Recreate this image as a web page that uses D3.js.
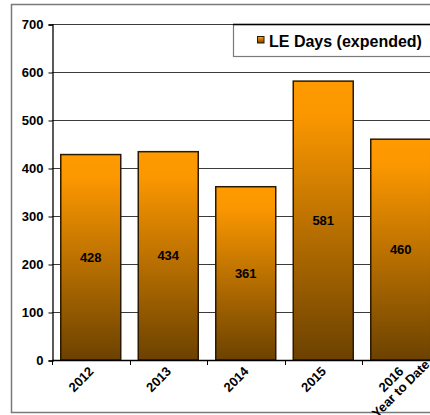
<!DOCTYPE html>
<html>
<head>
<meta charset="utf-8">
<script src="https://cdn.jsdelivr.net/npm/d3@7"></script>
<style>
  body { margin: 0; background: #fff; }
  text { font-family: Arial, "Liberation Sans", sans-serif; font-weight: bold; fill: #000; }
</style>
</head>
<body>
<div id="chart"></div>
<script>
// values
let years = ["2012", "2013", "2014", "2015", "2016\nYear to Date"];
let days = [428, 434, 361, 581, 460];
let yTicks = [0, 100, 200, 300, 400, 500, 600, 700];
let seriesName = "LE Days (expended)";

let width = 430;
let height = 415;
let plotLeft = 52;
let plotTop = 24;
let plotBottom = 360;
let step = 77.5;

let svg = d3.select("#chart").append("svg")
  .attr("width", width)
  .attr("height", height);

// bar gradient, orange at top to brown at bottom
let grad = svg.append("defs").append("linearGradient")
  .attr("id", "barFill")
  .attr("x1", 0).attr("y1", 0).attr("x2", 0).attr("y2", 1);
grad.append("stop").attr("offset", "0").attr("stop-color", "#ff9a00");
grad.append("stop").attr("offset", "0.12").attr("stop-color", "#fb9700");
grad.append("stop").attr("offset", "1").attr("stop-color", "#6c4200");

// outer chart frame (cut off on the right)
svg.append("path")
  .attr("d", "M 460 4.5 H 11.5 V 412.5 H 460")
  .attr("fill", "none")
  .attr("stroke", "#7a7a7a")
  .attr("stroke-width", 1.5);

let x = d3.scaleBand()
  .domain(years)
  .range([plotLeft, plotLeft + step * years.length])
  .paddingInner(0.226)
  .paddingOuter(0.113);

let y = d3.scaleLinear()
  .domain([0, 700])
  .range([plotBottom, plotTop]);

// gridlines
svg.append("g")
  .selectAll("line")
  .data(yTicks.slice(1))
  .enter().append("line")
  .attr("x1", plotLeft)
  .attr("x2", width + 20)
  .attr("y1", function(d) { return Math.round(y(d)) + 0.5; })
  .attr("y2", function(d) { return Math.round(y(d)) + 0.5; })
  .attr("stroke", "#3a3a3a")
  .attr("stroke-width", 1);

// y axis
let yAxis = svg.append("g")
  .attr("transform", "translate(" + (plotLeft + 0.5) + ",0.5)")
  .call(d3.axisLeft(y).tickValues(yTicks).tickSize(4).tickPadding(5));
yAxis.select(".domain").attr("stroke", "#000").attr("stroke-width", 1.3);
yAxis.selectAll(".tick line").attr("stroke", "#000");
yAxis.selectAll(".tick text").attr("font-size", "13px").attr("font-family", "Arial, 'Liberation Sans', sans-serif");

// bars
let bars = svg.append("g")
  .selectAll(".bar")
  .data(days)
  .enter().append("g")
  .attr("class", "bar");

bars.append("rect")
  .attr("x", function(d, i) { return x(years[i]); })
  .attr("y", function(d) { return y(d); })
  .attr("width", x.bandwidth())
  .attr("height", function(d) { return y(0) - y(d); })
  .attr("fill", "url(#barFill)")
  .attr("stroke", "#2b1a00")
  .attr("stroke-width", 1.5);

bars.append("text")
  .attr("x", function(d, i) { return x(years[i]) + x.bandwidth() / 2; })
  .attr("y", function(d) { return (y(d) + y(0)) / 2; })
  .attr("dy", "0.35em")
  .attr("text-anchor", "middle")
  .attr("font-size", "13px")
  .text(function(d) { return d; });

// x axis line and ticks at category edges
svg.append("line")
  .attr("x1", plotLeft).attr("x2", width + 20)
  .attr("y1", plotBottom + 0.5).attr("y2", plotBottom + 0.5)
  .attr("stroke", "#000").attr("stroke-width", 1.3);

svg.append("g")
  .selectAll("line")
  .data(years)
  .enter().append("line")
  .attr("x1", function(d) { return Math.round(x(d) - x.step() * x.paddingInner() / 2) + 0.5; })
  .attr("x2", function(d) { return Math.round(x(d) - x.step() * x.paddingInner() / 2) + 0.5; })
  .attr("y1", plotBottom)
  .attr("y2", plotBottom + 5)
  .attr("stroke", "#000");

// rotated category labels: first line ends at the anchor, later lines centred under it
let lab = svg.append("g")
  .selectAll(".xlab")
  .data(years)
  .enter().append("g")
  .attr("class", "xlab")
  .attr("transform", function(d) {
    return "translate(" + (x(d) + x.bandwidth() / 2 + 0.5) + "," + (plotBottom + 9) + ") rotate(-45)";
  });

lab.each(function(d) {
  let g = d3.select(this);
  let lines = d.split("\n");
  let t = g.selectAll("text")
    .data(lines)
    .enter().append("text")
    .attr("font-size", "13px")
    .attr("text-anchor", "middle")
    .attr("dy", "0.35em")
    .text(function(s) { return s; });
  let w0 = t.node().getComputedTextLength();
  t.attr("x", -w0 / 2)
    .attr("y", function(s, i) { return i * 13.5; });
});

// legend
let legend = svg.append("g");
legend.append("rect")
  .attr("x", 233.5).attr("y", 24.5)
  .attr("width", 240).attr("height", 32)
  .attr("fill", "#fff")
  .attr("stroke", "#7a7a7a")
  .attr("stroke-width", 1.2);
legend.append("line")
  .attr("x1", 233).attr("x2", width + 20)
  .attr("y1", 24.5).attr("y2", 24.5)
  .attr("stroke", "#000").attr("stroke-width", 1.3);
legend.append("rect")
  .attr("x", 257.5).attr("y", 36.5)
  .attr("width", 6.5).attr("height", 6.5)
  .attr("fill", "url(#barFill)")
  .attr("stroke", "#2b1a00");
legend.append("text")
  .attr("x", 269).attr("y", 46.5)
  .attr("font-size", "16px")
  .text(seriesName);
</script>
</body>
</html>
